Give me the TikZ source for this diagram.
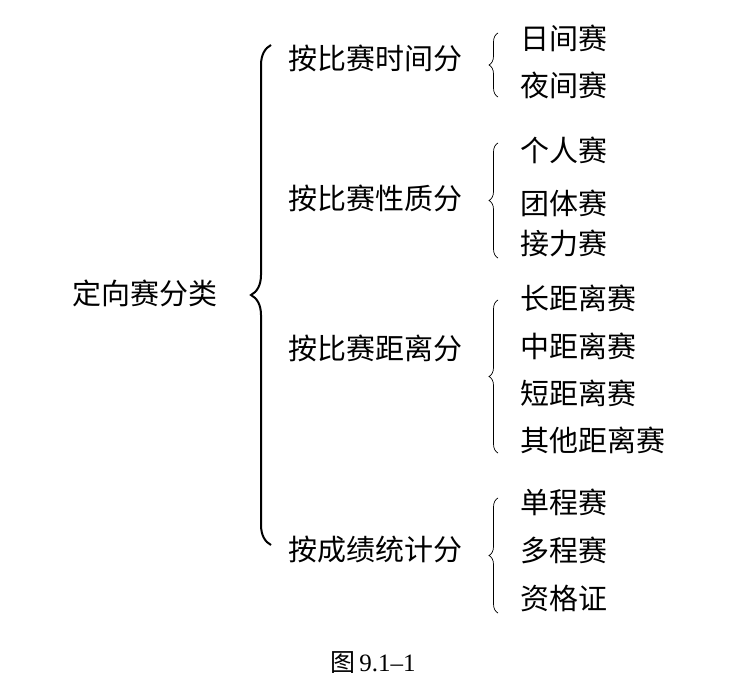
\documentclass[tikz,border=0pt]{standalone}
\usepackage{fontspec}
\setmainfont{Liberation Serif}
\newfontfamily\cjk{Noto Sans CJK SC}
\usetikzlibrary{decorations.pathreplacing}

\tikzset{
	item/.style={anchor=west, inner sep=0pt, font=\cjk\fontsize{29}{29}\selectfont},
	bigbrace/.style={decorate, decoration={brace, amplitude=20pt}, line width=2pt},
	smallbrace/.style={decorate, decoration={brace, amplitude=9pt}, line width=0.7pt},
}

\begin{document}
\begin{tikzpicture}[x=1pt, y=-1pt]
	\useasboundingbox (0,0) rectangle (732,696);

	\node[item] (root) at (72,293) {定向赛分类};

	\node[item] (c1) at (288,58) {按比赛时间分};
	\node[item] (c2) at (288,198) {按比赛性质分};
	\node[item] (c3) at (288,348) {按比赛距离分};
	\node[item] (c4) at (288,550) {按成绩统计分};

	\node[item] (l11) at (520,38) {日间赛};
	\node[item] (l12) at (520,85) {夜间赛};
	\node[item] (l21) at (520,150) {个人赛};
	\node[item] (l22) at (520,203) {团体赛};
	\node[item] (l23) at (520,243) {接力赛};
	\node[item] (l31) at (520,298) {长距离赛};
	\node[item] (l32) at (520,346) {中距离赛};
	\node[item] (l33) at (520,393) {短距离赛};
	\node[item] (l34) at (520,440) {其他距离赛};
	\node[item] (l41) at (520,502) {单程赛};
	\node[item] (l42) at (520,550) {多程赛};
	\node[item] (l43) at (520,598) {资格证};

	\node[font=\fontsize{25}{25}\selectfont] (cap) at (373,663) {{\cjk 图}\,9.1--1};

	% braces
	\coordinate (b0t) at (271,45);
	\coordinate (b0b) at (271,545);
	\coordinate (b1t) at (498,33);
	\coordinate (b1b) at (498,97);
	\coordinate (b2t) at (498,143);
	\coordinate (b2b) at (498,258);
	\coordinate (b3t) at (498,300);
	\coordinate (b3b) at (498,453);
	\coordinate (b4t) at (498,498);
	\coordinate (b4b) at (498,613);

	\draw[bigbrace] (b0b) -- (b0t);
	\foreach \i in {1,...,4}
		\draw[smallbrace] (b\i b) -- (b\i t);
\end{tikzpicture}
\end{document}
